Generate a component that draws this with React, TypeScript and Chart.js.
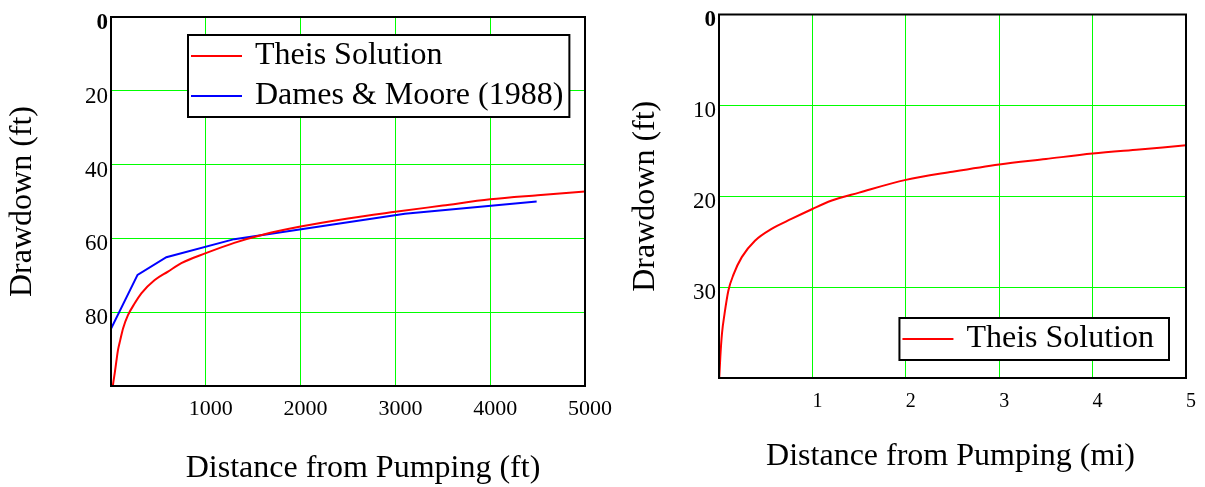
import React, { useEffect, useRef } from "react";
import { Chart, registerables } from "chart.js";

Chart.register(...registerables);

const FONT = "'Liberation Serif', 'Times New Roman', Times, serif";

// ---- Left chart: distance in feet ----
const theisFtDistance = [18, 21, 39, 56, 74, 98, 127, 179, 250, 320, 461, 601, 742, 1000, 1300, 1600, 2000, 2500, 3000, 3500, 4000, 4500, 5000];
const theisFtDrawdown = [100.5, 99.7, 96.6, 93.4, 90.2, 87.5, 84.4, 80.8, 77.6, 74.9, 71.3, 69.0, 66.7, 64.0, 61.2, 59.0, 56.8, 54.6, 52.8, 51.1, 49.4, 48.3, 47.3];
const damesDistance = [0, 280, 584, 1300, 3100, 4490];
const damesDrawdown = [84.5, 69.9, 65.1, 60.2, 53.3, 50.0];
const ftXTicks = [0, 1000, 2000, 3000, 4000, 5000];
const ftYTicks = [0, 20, 40, 60, 80, 100];

// ---- Right chart: distance in miles ----
const theisMiDistance = [0.001, 0.003, 0.014, 0.032, 0.06, 0.1, 0.156, 0.244, 0.385, 0.563, 0.775, 1.0, 1.2, 1.5, 2.0, 2.5, 3.0, 3.5, 4.0, 4.5, 5.0];
const theisMiDrawdown = [40.4, 39.9, 37.7, 35.1, 32.9, 30.4, 28.6, 26.7, 24.9, 23.6, 22.5, 21.4, 20.5, 19.6, 18.2, 17.3, 16.5, 15.9, 15.3, 14.85, 14.4];
const miXTicks = [0, 1, 2, 3, 4, 5];
const miYTicks = [0, 10, 20, 30, 40];

const THEIS_LABEL = "Theis Solution";
const DAMES_LABEL = "Dames & Moore (1988)";
const Y_TITLE = "Drawdown (ft)";
const X_TITLE_FT = "Distance from Pumping (ft)";
const X_TITLE_MI = "Distance from Pumping (mi)";

const toPoints = (xs: number[], ys: number[]) => xs.map((x, i) => ({ x, y: ys[i] }));

const framePlugin = {
  id: "frameLegend",
  afterDatasetsDraw(chart: any, _args: any, opts: any) {
    const { ctx, chartArea: a } = chart;
    ctx.save();
    // legend box
    const items = chart.data.datasets.map((d: any) => ({ label: d.label, color: d.borderColor }));
    ctx.font = `32px ${FONT}`;
    const maxW = Math.max(...items.map((i: any) => ctx.measureText(i.label).width));
    const w = 67 + maxW + opts.padRight;
    const h = items.length * 40 + 2;
    const x = opts.corner === "topleft" ? a.left + opts.dx : a.right - opts.dx - w;
    const y = opts.corner === "topleft" ? a.top + opts.dy : a.bottom - opts.dy - h;
    ctx.fillStyle = "#ffffff";
    ctx.fillRect(x, y, w, h);
    ctx.strokeStyle = "#000000";
    ctx.lineWidth = 2;
    ctx.strokeRect(x, y, w, h);
    items.forEach((it: any, i: number) => {
      const cy = y + 21 + i * 40;
      ctx.strokeStyle = it.color;
      ctx.lineWidth = 2;
      ctx.beginPath();
      ctx.moveTo(x + 3, cy);
      ctx.lineTo(x + 54, cy);
      ctx.stroke();
      ctx.fillStyle = "#000000";
      ctx.textBaseline = "middle";
      ctx.textAlign = "left";
      ctx.fillText(it.label, x + 67, cy);
    });
    // plot frame
    ctx.strokeStyle = "#000000";
    ctx.lineWidth = 2;
    ctx.strokeRect(a.left, a.top, a.right - a.left, a.bottom - a.top);
    // x axis title
    ctx.fillStyle = "#000000";
    ctx.font = `32px ${FONT}`;
    ctx.textAlign = "center";
    ctx.textBaseline = "middle";
    ctx.fillText(opts.xTitle, (a.left + a.right) / 2 + opts.xTitleDx, a.bottom + opts.xTitleDy);
    ctx.restore();
  },
};

function makeConfig(p: {
  datasets: any[];
  xTicks: number[];
  yTicks: number[];
  yWidth: number;
  xHeight: number;
  padding: any;
  xTickFont: number;
  xTickPad: number;
  yTitlePad: number;
  legend: any;
}) {
  const xMin = p.xTicks[0];
  const xMax = p.xTicks[p.xTicks.length - 1];
  const yMin = p.yTicks[0];
  const yMax = p.yTicks[p.yTicks.length - 1];
  return {
    type: "line",
    data: { datasets: p.datasets },
    plugins: [framePlugin],
    options: {
      animation: false,
      responsive: false,
      maintainAspectRatio: false,
      layout: { padding: p.padding },
      plugins: {
        legend: { display: false },
        tooltip: { enabled: false },
        frameLegend: p.legend,
      },
      elements: { point: { radius: 0 } },
      scales: {
        x: {
          type: "linear",
          min: xMin,
          max: xMax,
          afterBuildTicks: (s: any) => {
            s.ticks = p.xTicks.map((v) => ({ value: v }));
          },
          afterFit: (s: any) => {
            s.height = p.xHeight;
          },
          border: { display: false },
          grid: { color: "#00ff00", lineWidth: 1, drawTicks: false },
          ticks: {
            autoSkip: false,
            maxRotation: 0,
            color: "#000000",
            padding: p.xTickPad,
            labelOffset: 5,
            font: { family: FONT, size: p.xTickFont, lineHeight: 1 },
            callback: (v: number) => (v === xMin ? "" : String(v)),
          },
        },
        y: {
          type: "linear",
          reverse: true,
          min: yMin,
          max: yMax,
          afterBuildTicks: (s: any) => {
            s.ticks = p.yTicks.map((v) => ({ value: v }));
          },
          afterFit: (s: any) => {
            s.width = p.yWidth;
          },
          border: { display: false },
          grid: { color: "#00ff00", lineWidth: 1, drawTicks: false },
          title: {
            display: true,
            text: Y_TITLE,
            color: "#000000",
            font: { family: FONT, size: 32, lineHeight: 1 },
            padding: { top: p.yTitlePad, bottom: 0 },
          },
          ticks: {
            autoSkip: false,
            color: "#000000",
            padding: 3,
            labelOffset: 6,
            font: (ctx: any) => ({
              family: FONT,
              size: 23,
              lineHeight: 1,
              weight: ctx.tick && ctx.tick.value === 0 ? "bold" : "normal",
            }),
            callback: (v: number) => (v === yMax ? "" : String(v)),
          },
        },
      },
    },
  };
}

function ChartCanvas({ left, width, build }: { left: number; width: number; build: () => any }) {
  const ref = useRef<HTMLCanvasElement>(null);
  useEffect(() => {
    const chart = new Chart(ref.current as HTMLCanvasElement, build());
    return () => chart.destroy();
  }, []);
  return (
    <canvas
      ref={ref}
      width={width}
      height={487}
      style={{ position: "absolute", left, top: 0, width, height: 487 }}
    />
  );
}

export default function App() {
  const buildLeft = () =>
    makeConfig({
      datasets: [
        {
          label: THEIS_LABEL,
          data: toPoints(theisFtDistance, theisFtDrawdown),
          borderColor: "#ff0000",
          borderWidth: 2,
          cubicInterpolationMode: "monotone",
          fill: false,
        },
        {
          label: DAMES_LABEL,
          data: toPoints(damesDistance, damesDrawdown),
          borderColor: "#0000ff",
          borderWidth: 2,
          tension: 0,
          fill: false,
        },
      ],
      xTicks: ftXTicks,
      yTicks: ftYTicks,
      yWidth: 111,
      xHeight: 101,
      padding: { top: 17, right: 35, left: 0, bottom: 0 },
      xTickFont: 22,
      xTickPad: 12,
      yTitlePad: 7,
      legend: { corner: "topleft", dx: 77, dy: 18, padRight: 6, xTitle: X_TITLE_FT, xTitleDx: 15, xTitleDy: 83 },
    });
  const buildRight = () =>
    makeConfig({
      datasets: [
        {
          label: THEIS_LABEL,
          data: toPoints(theisMiDistance, theisMiDrawdown),
          borderColor: "#ff0000",
          borderWidth: 2,
          cubicInterpolationMode: "monotone",
          fill: false,
        },
      ],
      xTicks: miXTicks,
      yTicks: miYTicks,
      yWidth: 99,
      xHeight: 109,
      padding: { top: 12, right: 15, left: 0, bottom: 0 },
      xTickFont: 20,
      xTickPad: 14,
      yTitlePad: 10,
      legend: { corner: "bottomright", dx: 17, dy: 18, padRight: 15, xTitle: X_TITLE_MI, xTitleDx: -2, xTitleDy: 79 },
    });
  return (
    <div
      style={{
        position: "absolute",
        left: 0,
        top: 0,
        width: 1205,
        height: 487,
        background: "#ffffff",
        overflow: "hidden",
      }}
    >
      <ChartCanvas left={0} width={620} build={buildLeft} />
      <ChartCanvas left={620} width={585} build={buildRight} />
    </div>
  );
}
